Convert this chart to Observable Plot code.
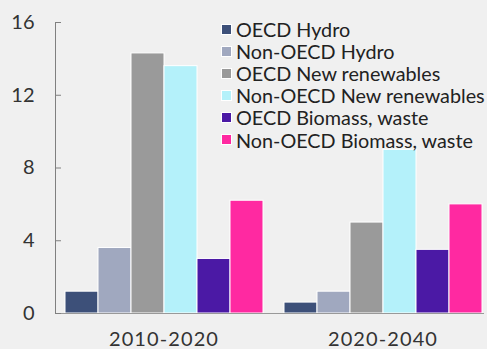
<!DOCTYPE html>
<html><head><meta charset="utf-8">
<script src="https://cdn.jsdelivr.net/npm/d3@7"></script>
<script src="https://cdn.jsdelivr.net/npm/@observablehq/plot@0.6"></script>
<style>
html,body{margin:0;padding:0;background:#f0f0f0;}
#wrap{position:relative;width:487px;height:349px;font-family:Lato,sans-serif;}
#legend{position:absolute;left:221px;top:18px;}
.row{display:flex;align-items:center;height:22.1px;font-size:19.8px;color:#222;white-space:nowrap;}
.sw{width:11px;height:11px;box-sizing:border-box;border:1px solid #fff;margin-right:4px;flex:none;}
g[aria-label="fx-axis tick label"] text{letter-spacing:1.1px;}
</style></head>
<body><div id="wrap"><div id="legend"></div></div>
<script>
const periods = ["2010-2020", "2020-2040"];
const series = ["OECD Hydro", "Non-OECD Hydro", "OECD New renewables", "Non-OECD New renewables", "OECD Biomass, waste", "Non-OECD Biomass, waste"];
const colors = ["#3d5079", "#a0a8bf", "#9a9a9a", "#b4f1fa", "#4b19a5", "#ff29a1"];
const values2010 = [1.2, 3.6, 14.3, 13.6, 3.0, 6.2];
const values2020 = [0.6, 1.2, 5.0, 9.0, 3.5, 6.0];
const yTicks = [0, 4, 8, 12, 16];

const valuesByPeriod = [values2010, values2020];
const data = periods.flatMap((p, i) => series.map((s, j) => ({period: p, series: s, value: valuesByPeriod[i][j]})));

const chart = Plot.plot({
  width: 487, height: 349,
  marginLeft: 55, marginRight: 0, marginTop: 22, marginBottom: 36,
  style: {background: "transparent", fontFamily: "Lato, sans-serif", fontSize: "20px", overflow: "visible"},
  fx: {domain: periods, range: [55, 483], paddingInner: 10 / 219, paddingOuter: 0, label: null, axis: null},
  x: {domain: series, padding: 0, insetLeft: 8, axis: null},
  y: {domain: [0, 16], axis: null},
  color: {domain: series, range: colors},
  marks: [
    Plot.barY(data, {fx: "period", x: "series", y: "value", fill: "series", stroke: "#fff", strokeWidth: 1}),
    Plot.frame({anchor: "bottom", facet: "super", stroke: "#999"}),
    Plot.frame({anchor: "left", facetAnchor: "left", stroke: "#808080"}),
    Plot.axisY({ticks: yTicks, tickSize: 6, dx: 6, tickPadding: 21, stroke: "#808080", fill: "#333", fontSize: 20, label: null}),
    Plot.axisFx({anchor: "bottom", tickSize: 0, tickPadding: 18, dx: 4, fill: "#333", fontSize: 20, label: null})
  ]
});
document.getElementById("wrap").prepend(chart);
const legend = document.getElementById("legend");
series.forEach((s, i) => {
  const row = document.createElement("div");
  row.className = "row";
  const sw = document.createElement("span");
  sw.className = "sw";
  sw.style.background = colors[i];
  const t = document.createElement("span");
  t.textContent = s;
  row.append(sw, t);
  legend.append(row);
});
</script>
</body></html>
